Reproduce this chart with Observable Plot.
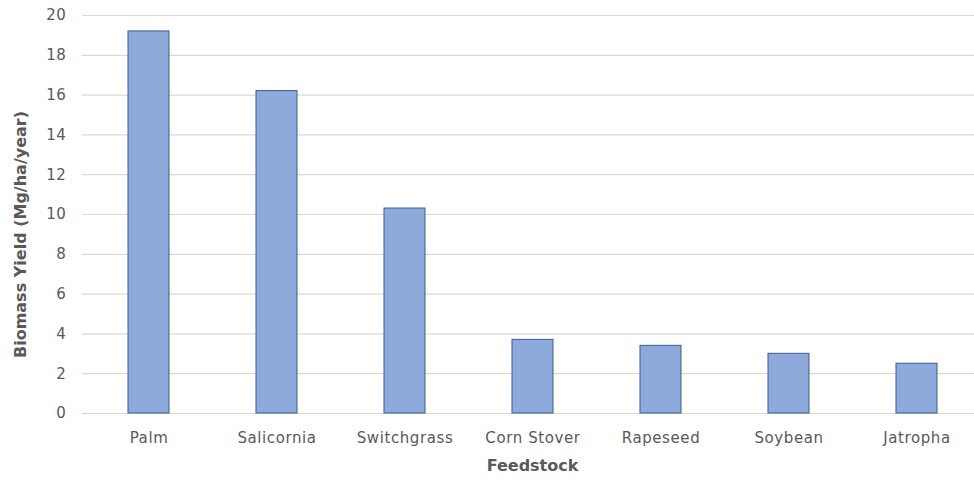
<!DOCTYPE html>
<html><head><meta charset="utf-8">
<script src="https://cdn.jsdelivr.net/npm/d3@7"></script>
<script src="https://cdn.jsdelivr.net/npm/@observablehq/plot@0.6"></script>
<style>body{margin:0;background:#fff} g[aria-label="x-axis tick label"] text, g[aria-label="y-axis tick label"] text{letter-spacing:0.6px}</style>
</head><body><div id="chart"></div>
<script>
const feedstocks = ["Palm","Salicornia","Switchgrass","Corn Stover","Rapeseed","Soybean","Jatropha"];
const yields = [19.2, 16.2, 10.3, 3.7, 3.4, 3.0, 2.5];
const yTicks = [0,2,4,6,8,10,12,14,16,18,20];
const data = feedstocks.map((f,i)=>({feedstock:f, value:yields[i]}));
const font = "'DejaVu Sans', sans-serif";
const chart = Plot.plot({
  width: 974, height: 480,
  marginLeft: 82, marginRight: 0, marginTop: 15, marginBottom: 67,
  style: {fontFamily: font, fontSize: "15px", color: "#595959", background: "#fff"},
  x: {domain: feedstocks, range: [82, 983], paddingInner: 0.68, paddingOuter: 0.34, label: null},
  y: {domain: [0, 20], ticks: yTicks, label: null},
  marks: [
    Plot.ruleY(yTicks, {stroke: "#d9d9d9", strokeWidth: 1.2}),
    Plot.barY(data, {x: "feedstock", y: "value", fill: "#8eaadc", stroke: "#3f5a8c", strokeWidth: 1}),
    Plot.axisY({ticks: yTicks, tickSize: 0, tickPadding: 16, fontSize: 15, fill: "#595959", label: null}),
    Plot.axisX({tickSize: 0, tickPadding: 19, fontSize: 15, fill: "#595959", label: null}),
    Plot.text(["Biomass Yield (Mg/ha/year)"], {frameAnchor: "left", dx: -62, dy: 20, rotate: -90, textAnchor: "middle", fontWeight: "bold", fontSize: 16, fill: "#595959"}),
    Plot.text(["Feedstock"], {frameAnchor: "bottom", dy: 57, dx: 4, fontWeight: "bold", fontSize: 16, fill: "#595959"})
  ]
});
document.getElementById("chart").append(chart);
</script></body></html>
